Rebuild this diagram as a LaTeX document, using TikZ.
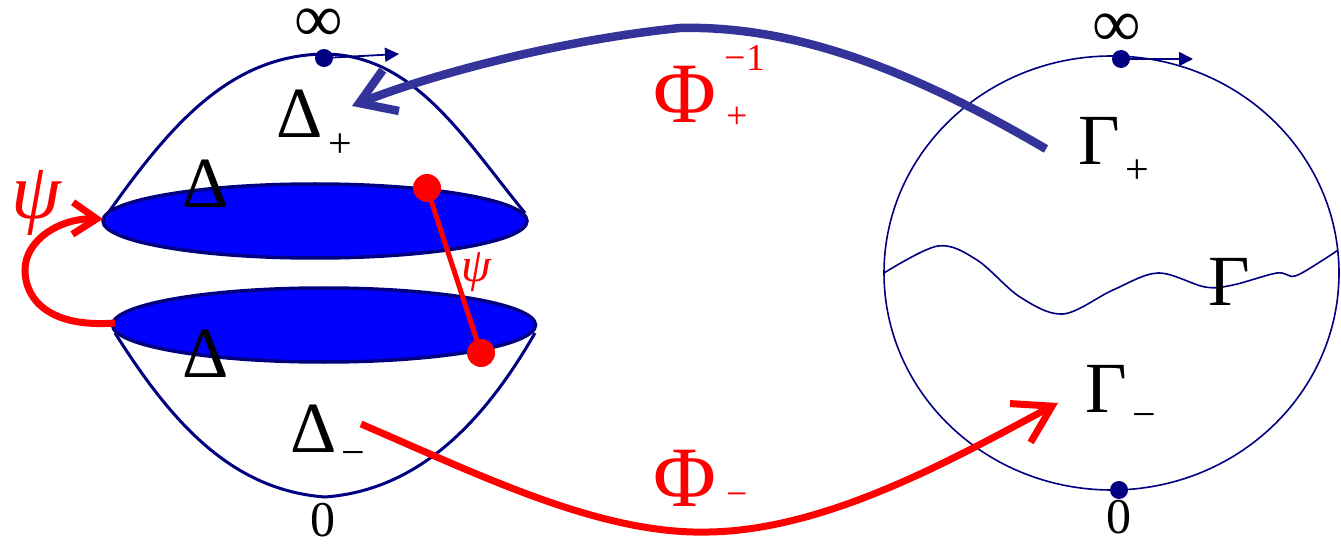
\documentclass[tikz,border=0pt]{standalone}
\usepackage{fontspec}
\setmainfont{Liberation Serif}
\usetikzlibrary{arrows.meta,shapes.geometric}
\definecolor{navy}{RGB}{0,0,128}
\definecolor{fillblue}{RGB}{0,0,255}
\definecolor{arrblue}{RGB}{51,51,153}
\definecolor{pured}{RGB}{255,0,0}
\begin{document}
\begin{tikzpicture}[x=1pt,y=-1pt,
  dome/.style={draw=navy,line width=3pt},
  disc/.style={ellipse,draw=navy,fill=fillblue,line width=3.5pt,inner sep=0pt},
  sphere/.style={ellipse,draw=navy,line width=1.6pt,inner sep=0pt},
  wave/.style={draw=navy,line width=1.6pt},
  navydot/.style={circle,fill=navy,inner sep=0pt,minimum size=18pt},
  reddot/.style={circle,fill=pured,inner sep=0pt,minimum size=28pt},
  smallarr/.style={draw=navy,line width=1.8pt,-{Triangle[length=14pt,width=14pt]}},
  bigtxt/.style={inner sep=0pt,font=\fontsize{72pt}{72pt}\selectfont},
  phitxt/.style={inner sep=0pt,text=pured,font=\fontsize{86pt}{86pt}\selectfont},
  subtxt/.style={inner sep=0pt,font=\fontsize{42pt}{42pt}\selectfont},
  phisub/.style={inner sep=0pt,text=pured,font=\fontsize{38pt}{38pt}\selectfont},
  numtxt/.style={inner sep=0pt,font=\fontsize{50pt}{50pt}\selectfont},
  inftxt/.style={inner sep=0pt,font=\fontsize{68pt}{68pt}\selectfont},
  psibig/.style={inner sep=0pt,text=pured,font=\fontsize{80pt}{80pt}\selectfont\itshape},
  psismall/.style={inner sep=0pt,text=pured,font=\fontsize{48pt}{48pt}\selectfont\itshape},
  bluemap/.style={draw=arrblue,line width=8.5pt,-{Straight Barb[length=34pt,width=44pt]}},
  redmap/.style={draw=pured,line width=7pt,-{Straight Barb[length=36pt,width=44pt]}},
  psiarr/.style={draw=pured,line width=7pt,-{Straight Barb[length=24pt,width=32pt]}}
]
\useasboundingbox (0,0) rectangle (1341,545);

% ---- left figure: domes
\coordinate (dl1) at (106,216);
\coordinate (dtop) at (325,54);
\coordinate (dr1) at (525,213);
\coordinate (bl1) at (115,333);
\coordinate (bbot) at (325,497);
\coordinate (br1) at (535,333);
\draw[dome] (dl1) .. controls (170,125) and (230,55) .. (dtop) .. controls (415,55) and (465,140) .. (dr1);
\draw[dome] (bl1) .. controls (170,420) and (230,490) .. (bbot) .. controls (420,490) and (485,420) .. (br1);

% discs
\node[disc,minimum width=424pt,minimum height=74pt] (topdisc) at (315,221) {};
\node[disc,minimum width=423pt,minimum height=74pt] (botdisc) at (324,325) {};

% points at infinity / zero (left)
\node[navydot] (infL) at (324,58) {};
\coordinate (infLend) at (399,54);
\draw[smallarr] (infL.center) -- (infLend);
\node[inftxt] (infLlbl) at (319,25) {∞};
\node[numtxt] (zeroL) at (323,520) {0};

% red psi connector between discs
\node[reddot] (pA) at (427,188) {};
\node[reddot] (pB) at (481,353) {};
\draw[pured,line width=5pt] (pA.center) -- (pB.center);
\node[psismall] (psiS) at (476,272) {ψ};

% red curved psi arrow
\coordinate (psiStart) at (115,323);
\coordinate (psiEnd) at (103,219);
\draw[psiarr] (psiStart) .. controls (50,328) and (25,300) .. (25,270) .. controls (25,240) and (60,218) .. (psiEnd);
\node[psibig] (psiB) at (36,203) {ψ};

% Delta labels
\node[bigtxt] (Dtop) at (206,184) {Δ};
\node[bigtxt] (Dbot) at (206,354) {Δ};
\node[bigtxt] (Dplus) at (300,114) {Δ};
\node[subtxt] (DplusS) at (340,146) {+};
\node[bigtxt] (Dminus) at (314,429) {Δ};
\node[subtxt] (DminusS) at (353,459) {−};

% ---- right figure
\node[sphere,minimum width=455pt,minimum height=434pt] (sph) at (1111.5,273) {};
\draw[wave] plot[smooth,tension=0.55] coordinates {(884,273) (938,246) (977,260) (1020,297) (1063,314) (1113,290) (1158,273) (1205,287) (1233,285) (1277,273) (1295,276) (1323,260) (1338,250)};
\node[navydot] (infR) at (1121,59) {};
\coordinate (infRend) at (1193,59);
\draw[smallarr] (infR.center) -- (infRend);
\node[navydot] (zeroRdot) at (1119,490) {};
\node[inftxt] (infRlbl) at (1117,30) {∞};
\node[numtxt] (zeroR) at (1119,517) {0};

\node[bigtxt] (Gam) at (1229,282) {Γ};
\node[bigtxt] (Gplus) at (1099,141) {Γ};
\node[subtxt] (GplusS) at (1137,172) {+};
\node[bigtxt] (Gminus) at (1106,389) {Γ};
\node[subtxt] (GminusS) at (1144,421) {−};

% ---- maps
\coordinate (bStart) at (1046,149);
\coordinate (bEnd) at (352,106);
\draw[bluemap] (bStart) .. controls (920,75) and (800,25) .. (680,28) .. controls (560,40) and (430,75) .. (bEnd);
\coordinate (rStart) at (361,424);
\coordinate (rEnd) at (1058,403);
\draw[redmap] (rStart) .. controls (480,475) and (600,535) .. (709,532) .. controls (830,530) and (960,455) .. (rEnd);

\node[phitxt] (PhiP) at (685,94) {Φ};
\node[phisub] (PhiPsup) at (745,58) {−1};
\node[phisub] (PhiPsub) at (737,118) {+};
\node[phitxt] (PhiM) at (685,478) {Φ};
\node[phisub] (PhiMsub) at (737,500) {−};
\end{tikzpicture}
\end{document}
